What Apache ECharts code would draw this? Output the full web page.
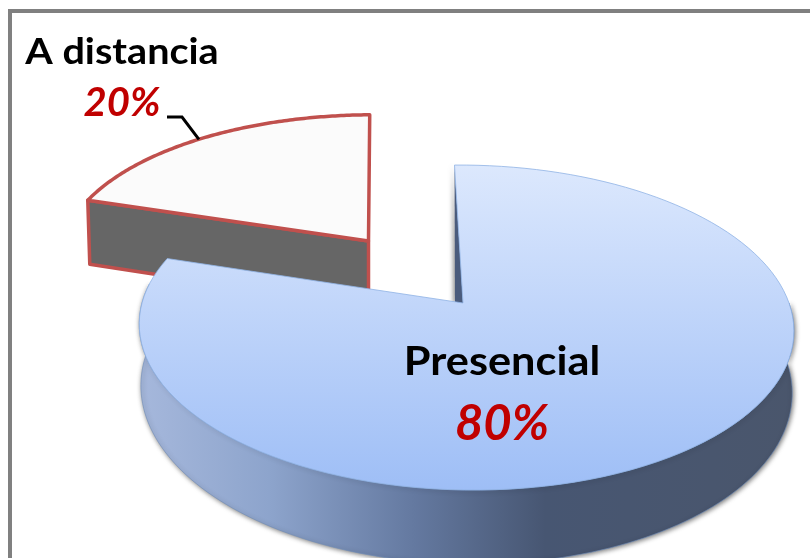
<!DOCTYPE html>
<html>
<head>
<meta charset="utf-8">
<style>html,body{margin:0;padding:0;background:#fff;overflow:hidden}#c{width:810px;height:558px;filter:blur(0.7px)}</style>
<script src="https://cdn.jsdelivr.net/npm/echarts@6/dist/echarts.min.js"></script>
</head>
<body>
<div id="c"></div>
<script>
const categories = ['Presencial', 'A distancia'];
const values = [80, 20];

const START_DEG = -1;
const P = 0.151;      // perspective strength of the disc
const SHEAR = -7;
const layouts = [
  { cx: 465.5, apexX: 463, apexY: 303, A: 323.5, B: 158.8, sx: 1, sy: 1, depth: 60, wallKx: 0.995, wallKy: 1.075 },
  { cx: 380.5, apexX: 368.5, apexY: 241, A: 324, B: 158.8, sx: 0.98, sy: 0.915, depth: 64 }
];
const labelStyles = [
  { nameX: 502, nameY: 362, pctX: 502, pctY: 424, nameSize: 40, nameScale: 1.083, pctSize: 49 },
  { nameX: 122, nameY: 52, pctX: 122, pctY: 103, nameSize: 37, nameScale: 1.07, pctSize: 40 }
];
const total = values.reduce((a, b) => a + b, 0);

function pt(l, deg, dy, kx, ky) {
  const t = deg * Math.PI / 180, u = Math.sin(t), v = Math.cos(t), w = 1 + P * v;
  kx = kx || 1; ky = ky || 1;
  return [
    l.cx + kx * l.sx * (l.A * u + SHEAR * v) / w,
    l.apexY + dy - ky * l.sy * l.B * v / w
  ];
}
function arc(l, a, b, dy, kx, ky) {
  const n = 120, out = [];
  for (let i = 0; i <= n; i++) out.push(pt(l, a + (b - a) * i / n, dy, kx, ky));
  return out;
}
const topGrad = { type: 'linear', x: 0, y: 165, x2: 0, y2: 490, global: true,
  colorStops: [{ offset: 0, color: '#DCE8FD' }, { offset: 1, color: '#9EBEF6' }] };
const wallGrad = { type: 'linear', x: 138, y: 0, x2: 795, y2: 0, global: true,
  colorStops: [{ offset: 0, color: '#A6B8DC' }, { offset: 0.2, color: '#8DA4CC' }, { offset: 0.42, color: '#6479A0' },
    { offset: 0.62, color: '#475672' }, { offset: 1, color: '#4A566C' }] };

function renderItem(params, api) {
  const i = params.dataIndex;
  let before = 0;
  for (let j = 0; j < i; j++) before += values[j];
  const a0 = START_DEG + 360 * before / total;
  const a1 = a0 + 360 * api.value(0) / total;
  const l = layouts[i], s = labelStyles[i];
  const pct = Math.round(100 * api.value(0) / total) + '%';
  const apex = [l.apexX, l.apexY];
  const children = [];
  if (i === 0) {
    const side = arc(l, 90, a1 - 10, 0).concat(arc(l, a1 - 10, 90, l.depth, l.wallKx, l.wallKy));
    children.push({ type: 'polygon', z2: 10, shape: { points: side },
      style: { fill: wallGrad, stroke: '#6F8DBB', lineWidth: 0.6, shadowBlur: 5, shadowColor: 'rgba(0,0,0,0.55)', shadowOffsetX: 1, shadowOffsetY: 1 } });
    const startPt = pt(l, a0, 0);
    children.push({ type: 'polygon', z2: 11, shape: { points: [startPt, [l.apexX, l.apexY], [l.apexX - 8, l.apexY]] },
      style: { fill: '#4A5B7C', shadowBlur: 4, shadowColor: 'rgba(0,0,0,0.4)', shadowOffsetX: -2 } });
    children.push({ type: 'polygon', z2: 12, shape: { points: [apex].concat(arc(l, a0, a1, 0)) },
      style: { fill: topGrad, stroke: '#8FB2E4', lineWidth: 0.8 } });
  } else {
    const e = pt(l, a0, 0);
    children.push({ type: 'polygon', z2: 1, shape: { points: [e, apex, [l.apexX, l.apexY + l.depth + 2], [e[0] + 2, e[1] + l.depth]] },
      style: { fill: '#666666', stroke: '#C0504D', lineWidth: 3.5, lineJoin: 'round' } });
    children.push({ type: 'polygon', z2: 2, shape: { points: [apex].concat(arc(l, a0, a1, 0)) },
      style: { fill: '#FBFBFB', stroke: '#C0504D', lineWidth: 3.5, lineJoin: 'round' } });
    const mid = pt(l, (a0 + a1) / 2 - 1.5, 0);
    children.push({ type: 'polyline', z2: 3, shape: { points: [[s.pctX + 45, 117], [182, 117], mid] },
      style: { stroke: '#000', lineWidth: 3, fill: null } });
  }
  children.push({ type: 'text', z2: 20, x: s.nameX, y: s.nameY, scaleX: s.nameScale, style: { x: 0, y: 0, text: categories[i],
    fill: '#000', font: 'bold ' + s.nameSize + 'px Lato, "Open Sans", sans-serif', align: 'center', verticalAlign: 'middle' } });
  children.push({ type: 'text', z2: 20, style: { x: s.pctX, y: s.pctY, text: pct,
    fill: '#C00000', font: 'italic bold ' + s.pctSize + 'px Lato, "Open Sans", sans-serif', align: 'center', verticalAlign: 'middle' } });
  return { type: 'group', children };
}

const chart = echarts.init(document.getElementById('c'), null, { renderer: 'canvas' });
chart.setOption({
  animation: false,
  backgroundColor: '#fff',
  graphic: [{ type: 'rect', silent: true, z: -1, shape: { x: 10, y: 11, width: 900, height: 800 },
    style: { fill: '#fff', stroke: '#808080', lineWidth: 4 } }],
  series: [{
    type: 'custom',
    coordinateSystem: 'none',
    renderItem,
    silent: true,
    data: values.map((v, i) => ({ name: categories[i], value: [v, i] }))
  }]
});
</script>
</body>
</html>
